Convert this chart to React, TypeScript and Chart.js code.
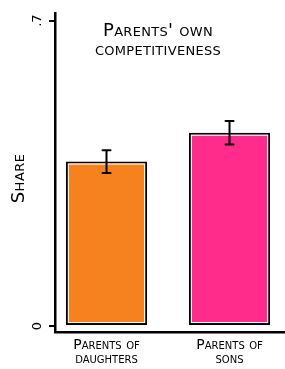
import React, { useEffect, useRef } from 'react';
import { Chart, registerables } from 'chart.js';

Chart.register(...registerables);

const categories: string[][] = [['Parents of', 'daughters'], ['Parents of', 'sons']];
const categoryPositions = [0, 1];
const shares = [0.377, 0.443];
const errors = [0.026, 0.027];
const barColors = ['#F5821F', '#FF2C8C'];
const yTickValues = [0, 0.7];
const yTickLabels = ['0', '.7'];
const titleLines = ["Parents' own", 'competitiveness'];
const yAxisTitle = 'Share';

const FAMILY = '"DejaVu Sans"';

const decorPlugin = {
  id: 'decor',
  afterDatasetsDraw(chart: any) {
    const ctx = chart.ctx as CanvasRenderingContext2D;
    const meta = chart.getDatasetMeta(0);
    const ys = chart.scales.y;
    ctx.save();
    meta.data.forEach((bar: any, i: number) => {
      const p = bar.getProps(['x', 'y', 'base', 'width'], true);
      const left = p.x - p.width / 2;
      ctx.strokeStyle = '#ffffff';
      ctx.lineWidth = 1;
      ctx.strokeRect(left + 2.5, p.y + 2.5, p.width - 5, p.base - p.y - 5);
      const hi = ys.getPixelForValue(shares[i] + errors[i]);
      const lo = ys.getPixelForValue(shares[i] - errors[i]);
      ctx.strokeStyle = '#000000';
      ctx.lineWidth = 2;
      ctx.lineCap = 'round';
      ctx.beginPath();
      ctx.moveTo(p.x, hi);
      ctx.lineTo(p.x, lo);
      ctx.moveTo(p.x - 4, hi);
      ctx.lineTo(p.x + 4, hi);
      ctx.moveTo(p.x - 4, lo);
      ctx.lineTo(p.x + 4, lo);
      ctx.stroke();
    });
    const area = chart.chartArea;
    ctx.fillStyle = '#000000';
    ctx.font = `small-caps 18px ${FAMILY}`;
    ctx.textAlign = 'center';
    ctx.textBaseline = 'alphabetic';
    try { (ctx as any).letterSpacing = '0.3px'; } catch (e) {}
    const cx = area.left + 103;
    ctx.fillText(titleLines[0], cx, area.top + 23);
    ctx.fillText(titleLines[1], cx, area.top + 42);
    // y-axis title
    try { (ctx as any).letterSpacing = '0.5px'; } catch (e) {}
    ctx.translate(19, (area.top + area.bottom) / 2 + 6);
    ctx.rotate(-Math.PI / 2);
    ctx.textBaseline = 'middle';
    ctx.fillText(yAxisTitle, 0, 0);
    ctx.restore();
  },
};

export default function App() {
  const ref = useRef<HTMLCanvasElement | null>(null);
  useEffect(() => {
    if (!ref.current) return;
    const chart = new Chart(ref.current, {
      type: 'bar',
      data: {
        datasets: [
          {
            data: categoryPositions.map((x, i) => ({ x, y: shares[i] })),
            backgroundColor: barColors,
            borderColor: '#000000',
            borderWidth: 2,
            borderSkipped: false,
            categoryPercentage: 1,
            barPercentage: 0.66,
          },
        ],
      },
      options: {
        animation: false,
        responsive: false,
        events: [],
        layout: { padding: { top: 8, right: 0, left: 0, bottom: 0 } },
        plugins: { legend: { display: false }, tooltip: { enabled: false }, title: { display: false } },
        scales: {
          x: {
            type: 'linear',
            min: -0.4187,
            max: 1.451,
            offset: false,
            grid: { display: false, drawTicks: false, offset: false },
            border: { display: true, color: '#000000', width: 2.5 },
            afterBuildTicks: (scale: any) => {
              scale.ticks = categoryPositions.map((v) => ({ value: v }));
            },
            afterFit: (scale: any) => {
              scale.height = 37;
            },
            ticks: {
              color: '#000000',
              padding: 6,
              maxRotation: 0,
              autoSkip: false,
              font: { family: 'DejaVu Sans', size: 14, weight: 'small-caps' as any, lineHeight: 1 },
              callback: (v: any) => categories[Math.round(Number(v))] as any,
            },
          },
          y: {
            min: -0.0136,
            max: 0.718,
            grid: { display: true, drawOnChartArea: false, drawTicks: true, tickLength: 6, color: '#000000', lineWidth: 2 },
            border: { display: true, color: '#000000', width: 2.5 },
            afterBuildTicks: (scale: any) => {
              scale.ticks = yTickValues.map((v) => ({ value: v }));
            },
            afterFit: (scale: any) => {
              scale.width = 55;
            },
            ticks: {
              color: '#000000',
              padding: 5,
              minRotation: 90,
              maxRotation: 90,
              crossAlign: 'center',
              autoSkip: false,
              font: { family: 'DejaVu Sans', size: 13 },
              callback: (v: any) => {
                const idx = yTickValues.findIndex((t) => Math.abs(t - Number(v)) < 1e-9);
                return idx >= 0 ? yTickLabels[idx] : '';
              },
            },
          },
        },
      },
      plugins: [decorPlugin],
    } as any);
    return () => chart.destroy();
  }, []);
  return (
    <div style={{ position: 'fixed', left: 0, top: 0, width: 285, height: 369, background: '#ffffff' }}>
      <canvas ref={ref} width={285} height={369} style={{ display: 'block', width: 285, height: 369 }} />
    </div>
  );
}
